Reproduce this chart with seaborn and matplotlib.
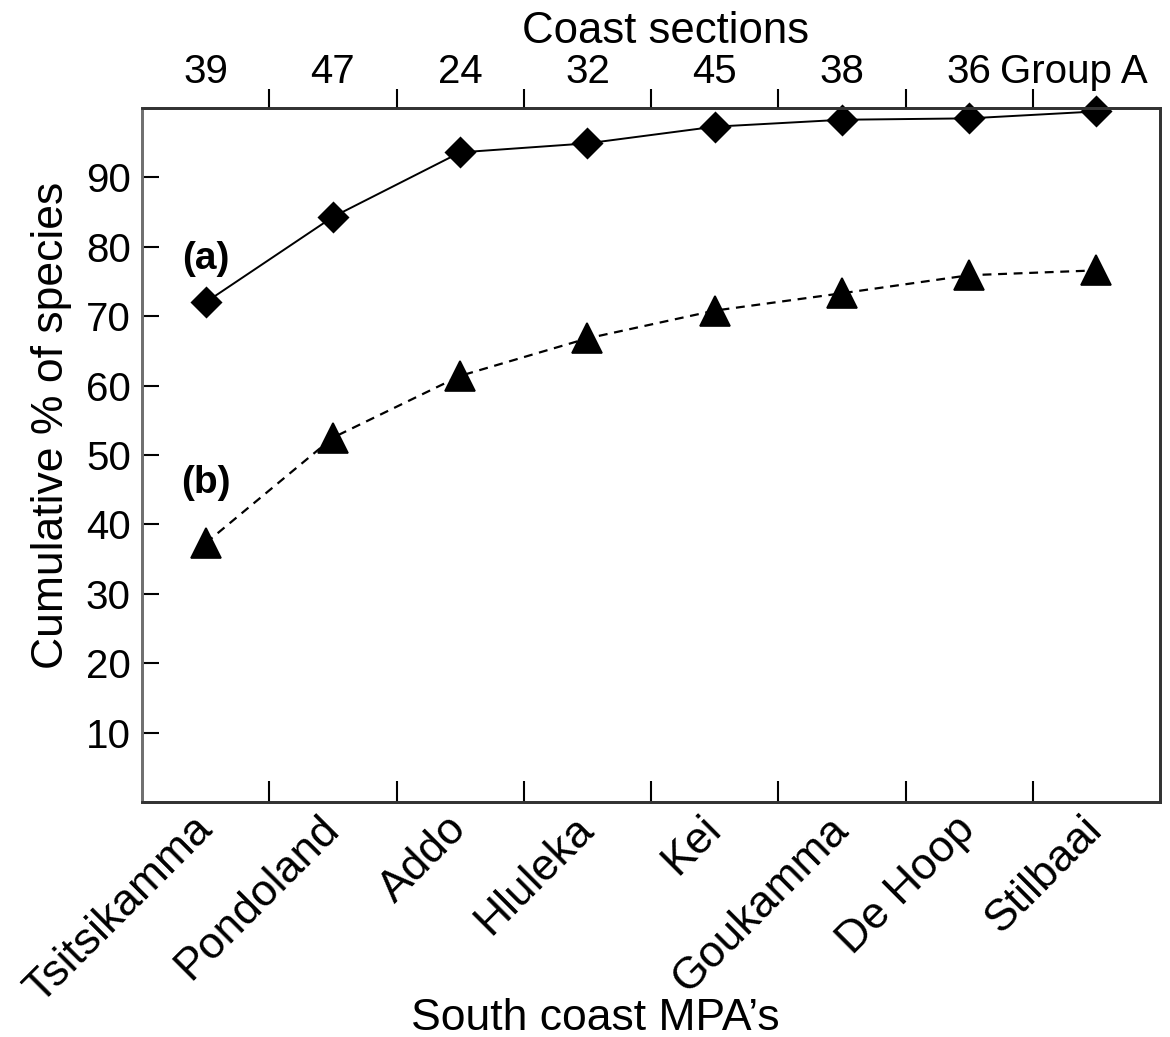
import numpy as np
import pandas as pd
import matplotlib
matplotlib.use("Agg")
import matplotlib.pyplot as plt
import seaborn as sns
from matplotlib.transforms import ScaledTranslation

# data
mpas = ["Tsitsikamma", "Pondoland", "Addo", "Hluleka", "Kei",
        "Goukamma", "De Hoop", "Stilbaai"]
coast_sections = ["39", "47", "24", "32", "45", "38", "36", "Group A"]
pct_a = [72.0, 84.3, 93.6, 94.9, 97.3, 98.3, 98.5, 99.5]
pct_b = [37.3, 52.5, 61.4, 66.8, 70.8, 73.3, 75.9, 76.6]
yticks = [10, 20, 30, 40, 50, 60, 70, 80, 90]

sns.set_style("ticks")
plt.rcParams["font.family"] = ["Liberation Sans", "DejaVu Sans"]
for key in ["text.color", "axes.labelcolor", "xtick.color", "ytick.color"]:
    plt.rcParams[key] = "black"

fig, ax = plt.subplots(figsize=(11.7, 10.37), dpi=100)
fig.subplots_adjust(left=0.1214, right=0.9915, bottom=0.2266, top=0.8959)

df_a = pd.DataFrame({"MPA": mpas, "pct": pct_a})
df_b = pd.DataFrame({"MPA": mpas, "pct": pct_b})

sns.pointplot(data=df_a, x="MPA", y="pct", color="black", errorbar=None,
              marker="D", markersize=15, linestyle="-", linewidth=1.4, ax=ax)
sns.pointplot(data=df_b, x="MPA", y="pct", color="black", errorbar=None,
              marker="^", markersize=22, linestyle="--", linewidth=1.6, ax=ax)
ax.lines[-1].set_dashes((4, 3))
for ln in ax.lines:
    ln.set_clip_on(False)

n = len(mpas)
ax.set_xlim(-0.5, n - 0.5)
ax.set_ylim(0, 100)

# y axis
ax.set_yticks(yticks)
ax.tick_params(axis="y", direction="in", length=12, width=1.5, labelsize=29, pad=8)

# bottom axis: category labels, tick marks between categories
ax.set_xticks(range(n), mpas)
ax.set_xticks(np.arange(n - 1) + 0.5, minor=True)
ax.tick_params(axis="x", which="major", length=0, pad=15, labelsize=32)
ax.tick_params(axis="x", which="minor", direction="in", length=15, width=1.5)
for lbl in ax.get_xticklabels():
    lbl.set_rotation(45)
    lbl.set_ha("right")
    lbl.set_va("center")
    lbl.set_rotation_mode("anchor")

ax.set_xlabel("South coast MPA\u2019s", fontsize=32)
ax.xaxis.set_label_coords(0.445, -0.3285)
ax.xaxis.label.set_va("baseline")
ax.set_ylabel("Cumulative % of species", fontsize=32)
ax.yaxis.set_label_coords(-0.069, 0.542)

# top axis: coast sections
ax2 = ax.twiny()
ax2.set_xlim(ax.get_xlim())
ax2.set_xticks(range(n), coast_sections)
ax2.set_xticks(np.arange(n - 1) + 0.5, minor=True)
ax2.tick_params(axis="x", which="major", length=0, pad=12, labelsize=29)
ax2.tick_params(axis="x", which="minor", direction="out", length=14, width=1.5)
ax2.set_xlabel("Coast sections", fontsize=31.5)
ax2.xaxis.set_label_coords(0.514, 1.094)
ax2.xaxis.label.set_va("baseline")

# (a) / (b) series labels
ax.text(0, 78.2, "(a)", ha="center", va="center", fontsize=28, fontweight="bold")
ax.text(0, 45.9, "(b)", ha="center", va="center", fontsize=28, fontweight="bold")

for a in (ax, ax2):
    for side, sp in a.spines.items():
        sp.set_linewidth(2)
        sp.set_color("#333333")
    a.spines["left"].set_color("#707070")

last = ax2.xaxis.get_major_ticks()[-1].label2
last.set_transform(last.get_transform() + ScaledTranslation(-16 / 72, 0, fig.dpi_scale_trans))

fig.savefig("out.png", dpi=100)
